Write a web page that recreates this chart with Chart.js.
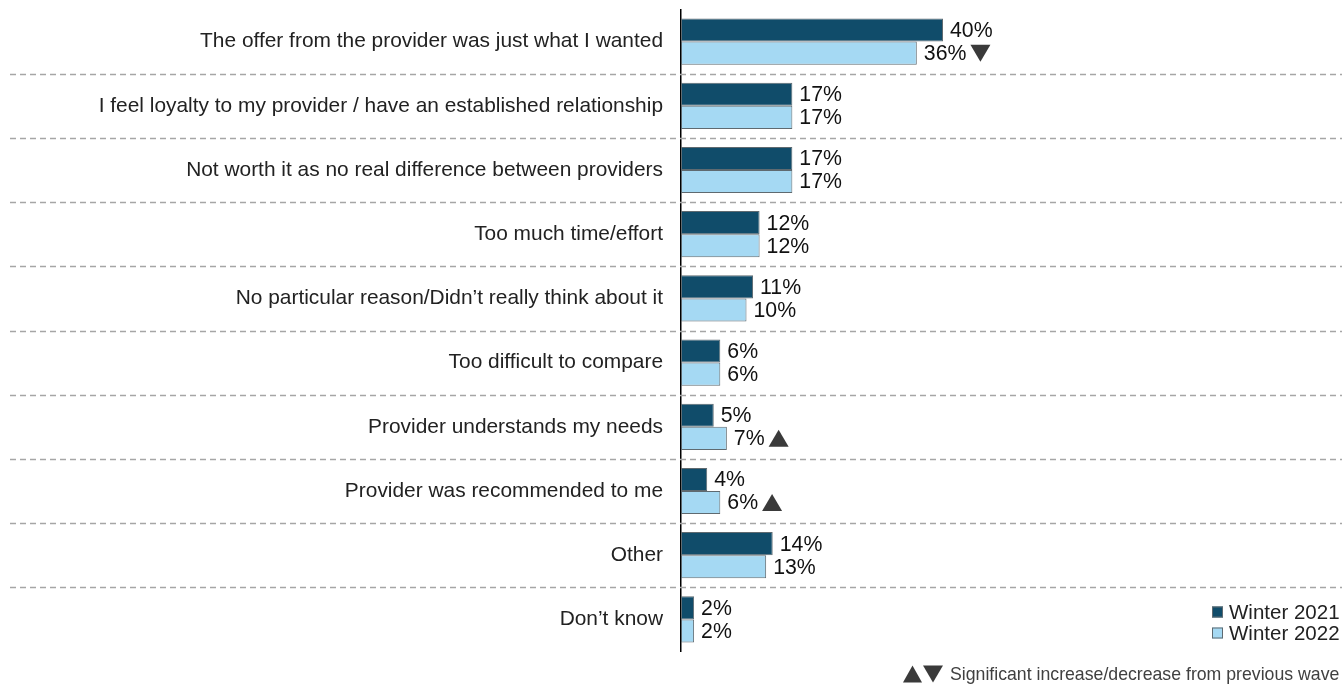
<!DOCTYPE html>
<html>
<head>
<meta charset="utf-8">
<script src="https://cdn.jsdelivr.net/npm/chart.js@4"></script>
<style>
  html, body { margin: 0; background: #fff; }
  #wrap { width: 1342px; height: 684px; }
</style>
</head>
<body>
<div id="wrap"><canvas id="chart"></canvas></div>
<script>
const categories = [
  'The offer from the provider was just what I wanted',
  'I feel loyalty to my provider / have an established relationship',
  'Not worth it as no real difference between providers',
  'Too much time/effort',
  'No particular reason/Didn\u2019t really think about it',
  'Too difficult to compare',
  'Provider understands my needs',
  'Provider was recommended to me',
  'Other',
  'Don\u2019t know'
];
const winter2021 = [40, 17, 17, 12, 11, 6, 5, 4, 14, 2];
const winter2022 = [36, 17, 17, 12, 10, 6, 7, 6, 13, 2];
// +1 significant increase, -1 significant decrease vs previous wave
const change2022 = [-1, 0, 0, 0, 0, 0, 1, 1, 0, 0];
const seriesNames = ['Winter 2021', 'Winter 2022'];
const footnote = 'Significant increase/decrease from previous wave';

const DARK = '#104c6a';
const LIGHT = '#a5d9f3';
const EDGE = '#5f6a70';
const MARK = '#3a3a3a';
const FONT = '"Liberation Sans", Arial, sans-serif';

function triangle(ctx, x, cy, w, h, up) {
  ctx.beginPath();
  if (up) {
    ctx.moveTo(x, cy + h / 2);
    ctx.lineTo(x + w, cy + h / 2);
    ctx.lineTo(x + w / 2, cy - h / 2);
  } else {
    ctx.moveTo(x, cy - h / 2);
    ctx.lineTo(x + w, cy - h / 2);
    ctx.lineTo(x + w / 2, cy + h / 2);
  }
  ctx.closePath();
  ctx.fillStyle = MARK;
  ctx.fill();
}

// dashed rules between the category rows
const separators = {
  id: 'separators',
  beforeDatasetsDraw(chart) {
    const { ctx } = chart;
    const y = chart.scales.y;
    ctx.save();
    ctx.strokeStyle = '#a6a6a6';
    ctx.lineWidth = 1.3;
    ctx.setLineDash([6, 4]);
    for (let i = 0; i < categories.length - 1; i++) {
      const py = Math.round((y.getPixelForValue(i) + y.getPixelForValue(i + 1)) / 2) + 0.5;
      ctx.beginPath();
      ctx.moveTo(10, py);
      ctx.lineTo(chart.width, py);
      ctx.stroke();
    }
    ctx.restore();
  }
};

// percentage labels plus significance arrows
const valueLabels = {
  id: 'valueLabels',
  afterDatasetsDraw(chart) {
    const { ctx } = chart;
    ctx.save();
    ctx.font = '21.3px ' + FONT;
    ctx.textBaseline = 'middle';
    ctx.textAlign = 'left';
    chart.data.datasets.forEach((ds, di) => {
      chart.getDatasetMeta(di).data.forEach((bar, i) => {
        const text = ds.data[i] + '%';
        const x = bar.x + 7;
        ctx.fillStyle = '#111';
        ctx.fillText(text, x, bar.y + 1);
        if (di === 1 && change2022[i] !== 0) {
          const w = ctx.measureText(text).width;
          triangle(ctx, x + w + 4, bar.y, 20, 17, change2022[i] > 0);
        }
      });
    });
    ctx.restore();
  }
};

// legend and footnote in the lower right corner
const cornerKey = {
  id: 'cornerKey',
  afterDraw(chart) {
    const { ctx } = chart;
    ctx.save();
    ctx.font = '20.5px ' + FONT;
    ctx.textBaseline = 'middle';
    ctx.textAlign = 'left';
    chart.data.datasets.forEach((ds, i) => {
      const cy = 612 + i * 21;
      ctx.fillStyle = ds.backgroundColor;
      ctx.fillRect(1212, cy - 5.5, 11, 11);
      ctx.strokeStyle = EDGE;
      ctx.lineWidth = 1;
      ctx.strokeRect(1212.5, cy - 5, 10, 10);
      ctx.fillStyle = '#222';
      ctx.fillText(ds.label, 1229, cy + 1);
    });
    triangle(ctx, 903, 674, 19, 17, true);
    triangle(ctx, 923, 674, 20, 17, false);
    ctx.font = '17.7px ' + FONT;
    ctx.fillStyle = '#404040';
    ctx.fillText(footnote, 950, 675);
    ctx.restore();
  }
};

new Chart(document.getElementById('chart'), {
  type: 'bar',
  data: {
    labels: categories,
    datasets: [
      { label: seriesNames[0], data: winter2021, backgroundColor: DARK },
      { label: seriesNames[1], data: winter2022, backgroundColor: LIGHT }
    ]
  },
  options: {
    indexAxis: 'y',
    responsive: true,
    maintainAspectRatio: false,
    animation: false,
    devicePixelRatio: 1,
    layout: { padding: { top: 9.5, bottom: 32.5, left: 0, right: 6 } },
    datasets: {
      bar: {
        categoryPercentage: 0.72,
        barPercentage: 1,
        borderColor: EDGE,
        borderWidth: 1,
        borderSkipped: false
      }
    },
    plugins: { legend: { display: false }, tooltip: { enabled: false } },
    scales: {
      x: { display: false, min: 0, max: 100 },
      y: {
        afterFit(scale) {
          scale.width = 681;
          scale.paddingTop = 0;
          scale.paddingBottom = 0;
        },
        grid: { display: false, drawTicks: false },
        border: { display: true, color: '#000', width: 1.5 },
        ticks: { color: '#222', padding: 18, font: { family: FONT, size: 20.9 } }
      }
    }
  },
  plugins: [separators, valueLabels, cornerKey]
});
</script>
</body>
</html>
